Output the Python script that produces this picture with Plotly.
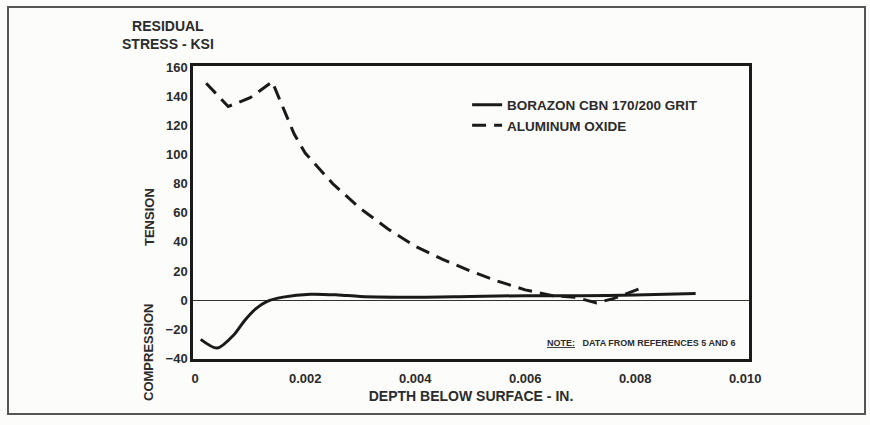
import plotly.graph_objects as go

# Borazon CBN 170/200 grit (solid)
cbn_depth = [0.0001, 0.0004, 0.0007, 0.0009, 0.0011, 0.0013, 0.0016, 0.0021, 0.0026,
             0.0030, 0.0040, 0.0050, 0.0060, 0.0070, 0.0080, 0.0091]
cbn_stress = [-27, -33, -24, -14, -6, -1, 2, 4, 3.5, 2.5, 2, 2.5, 3, 3, 3.5, 4.5]

# Aluminum oxide (dashed)
alo_depth = [0.0002, 0.0006, 0.0010, 0.0014, 0.0016, 0.0018, 0.0020, 0.0025, 0.0030, 0.0035,
             0.0040, 0.0045, 0.0050, 0.0055, 0.0060, 0.0065, 0.0069, 0.0073, 0.0076, 0.0081]
alo_stress = [149, 133, 139, 150, 132, 114, 101, 80, 63, 49, 37, 28, 20, 13, 7, 3, 2, -2, 1, 8]

x_ticks = [0, 0.002, 0.004, 0.006, 0.008, 0.010]
x_tick_labels = ["0", "0.002", "0.004", "0.006", "0.008", "0.010"]
y_ticks = [-40, -20, 0, 20, 40, 60, 80, 100, 120, 140, 160]

FONT = "Liberation Sans Narrow, Liberation Sans, Arial, sans-serif"
INK = "#2b2b2b"

fig = go.Figure()
fig.add_trace(go.Scatter(x=cbn_depth, y=cbn_stress, mode="lines",
                         name="BORAZON CBN 170/200 GRIT",
                         line=dict(color="#1a1a1a", width=3, shape="spline", smoothing=0.8)))
fig.add_trace(go.Scatter(x=alo_depth, y=alo_stress, mode="lines",
                         name="ALUMINUM OXIDE",
                         line=dict(color="#1a1a1a", width=3, dash="14px,8px", shape="linear")))

fig.update_layout(
    width=870, height=425,
    margin=dict(l=193, r=121, t=66, b=66),
    paper_bgcolor="#fcfcfa", plot_bgcolor="#fcfcfa",
    font=dict(family=FONT, color=INK, size=12),
    showlegend=True,
    legend=dict(x=0.493, y=0.92, xanchor="left", yanchor="top",
                bgcolor="rgba(0,0,0,0)", font=dict(size=13.5, family=FONT, weight="bold"),
                tracegroupgap=0, itemwidth=30),
    xaxis=dict(range=[-0.00004, 0.01007], tickvals=x_ticks, ticktext=x_tick_labels,
               showgrid=False, zeroline=False, showline=True, linecolor="#1a1a1a",
               linewidth=2.5, mirror=True, ticks="", ticklen=0, ticklabelstandoff=6,
               tickfont=dict(size=13, family=FONT, weight="bold", color=INK),
               title=dict(text="DEPTH BELOW SURFACE - IN.", standoff=6,
                          font=dict(size=14, family=FONT, weight="bold", color=INK))),
    yaxis=dict(range=[-40.5, 160.8], tickvals=y_ticks,
               showgrid=False, zeroline=True, zerolinecolor="#333", zerolinewidth=1,
               showline=True, linecolor="#1a1a1a", linewidth=2.5, mirror=True, ticks="",
               tickfont=dict(size=13, family=FONT, weight="bold", color=INK)),
)

# outer frame
fig.add_shape(type="rect", xref="paper", yref="paper",
              x0=(8 - 193) / 556, x1=(865 - 193) / 556,
              y0=1 - (414 - 66) / 293, y1=1 - (7 - 66) / 293,
              line=dict(color="#555", width=2), fillcolor="rgba(0,0,0,0)", layer="below")

annos = [
    dict(text="RESIDUAL<br>STRESS - KSI", x=168, y=35, size=14, angle=0),
    dict(text="TENSION", x=149, y=217, size=13, angle=-90),
    dict(text="COMPRESSION", x=148, y=352, size=13, angle=-90),
]
for a in annos:
    fig.add_annotation(text=a["text"], xref="paper", yref="paper",
                       x=(a["x"] - 193) / 556, y=1 - (a["y"] - 66) / 293,
                       xanchor="center", yanchor="middle",
                       showarrow=False, textangle=a["angle"], align="center",
                       font=dict(size=a["size"], family=FONT, weight="bold", color=INK))

fig.add_annotation(text="<u>NOTE:</u>   DATA FROM REFERENCES 5 AND 6", xref="paper", yref="paper",
                   x=(738 - 193) / 556, y=1 - (343 - 66) / 293, xanchor="right", yanchor="middle",
                   showarrow=False, font=dict(size=9, family=FONT, weight="bold", color=INK))

fig.write_html("out.html")
